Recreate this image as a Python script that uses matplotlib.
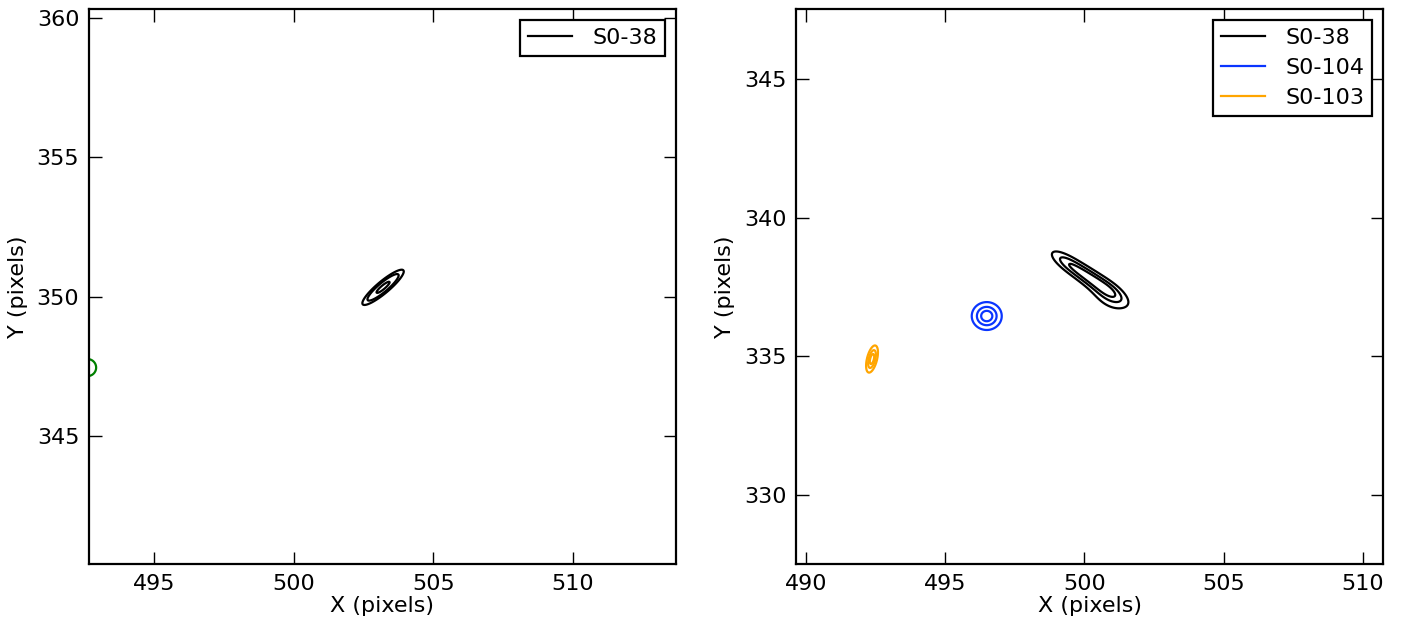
import numpy as np
import matplotlib
matplotlib.use("Agg")
import matplotlib.pyplot as plt
from matplotlib.lines import Line2D

# ---------------- data ----------------
# Each source: Gaussian components (x0, y0, amp, sigma_major, sigma_minor, angle_deg)
left_xlim = (492.67, 513.69)
left_ylim = (340.40, 360.32)
left_xticks = [495, 500, 505, 510]
left_yticks = [345, 350, 355, 360]

left_names = ["S0-38", None]
left_colors = ["black", "green"]
left_levels = [[0.2, 0.4, 0.85], [0.2]]
left_components = [
    [(503.2, 350.33, 1.0, 0.53, 0.12, 40.0)],
    [(492.62, 347.45, 1.0, 0.17, 0.17, 0.0)],
]

right_xlim = (489.64, 510.72)
right_ylim = (327.51, 347.52)
right_xticks = [490, 495, 500, 505, 510]
right_yticks = [330, 335, 340, 345]

right_names = ["S0-38", "S0-104", "S0-103"]
right_colors = ["black", "#0a35ff", "#ffa500"]
right_levels = [[0.2, 0.45, 0.72], [0.2, 0.5, 0.8], [0.2, 0.5, 0.8]]
right_components = [
    [(499.45, 338.32, 0.85, 0.50, 0.17, -34.0),
     (500.15, 337.85, 0.95, 0.50, 0.18, -34.0),
     (500.85, 337.38, 1.00, 0.50, 0.19, -34.0),
     (500.85, 337.05, 0.35, 0.50, 0.25, -34.0)],
    [(496.49, 336.45, 1.0, 0.30, 0.28, 0.0)],
    [(492.37, 334.90, 1.0, 0.28, 0.10, 76.0)],
]

# ---------------- style ----------------
plt.rcParams.update({
    "font.family": "DejaVu Sans",
    "font.size": 16,
    "xtick.direction": "in",
    "ytick.direction": "in",
    "xtick.top": True,
    "ytick.right": True,
    "xtick.major.size": 9,
    "ytick.major.size": 9,
    "xtick.major.width": 1.0,
    "ytick.major.width": 1.0,
    "xtick.major.pad": 7,
    "ytick.major.pad": 7,
    "axes.linewidth": 1.6,
})


def field(X, Y, comps):
    Z = np.zeros_like(X)
    for (x0, y0, amp, smaj, smin, ang) in comps:
        t = np.deg2rad(ang)
        dx, dy = X - x0, Y - y0
        u = dx * np.cos(t) + dy * np.sin(t)
        v = -dx * np.sin(t) + dy * np.cos(t)
        Z += amp * np.exp(-0.5 * ((u / smaj) ** 2 + (v / smin) ** 2))
    return Z / Z.max() if Z.max() > 0 else Z


def draw(ax, xlim, ylim, comps_list, colors, names, levs, xticks, yticks):
    xs = np.linspace(xlim[0] - 1.5, xlim[1] + 1.5, 900)
    ys = np.linspace(ylim[0] - 1.5, ylim[1] + 1.5, 900)
    X, Y = np.meshgrid(xs, ys)
    handles = []
    for comps, c, n, lv in zip(comps_list, colors, names, levs):
        Z = field(X, Y, comps)
        ax.contour(X, Y, Z, levels=lv, colors=c, linewidths=1.6)
        if n is not None:
            handles.append(Line2D([], [], color=c, lw=1.6, label=n))
    ax.set_xlim(*xlim)
    ax.set_ylim(*ylim)
    ax.set_xticks(xticks)
    ax.set_yticks(yticks)
    ax.set_xlabel("X (pixels)", labelpad=2)
    ax.set_ylabel("Y (pixels)", labelpad=6)
    leg = ax.legend(handles=handles, loc="upper right", fancybox=False,
                    framealpha=1, edgecolor="black", handlelength=2.0,
                    labelspacing=0.45, borderpad=0.35, handletextpad=0.9,
                    borderaxespad=0.5)
    leg.get_frame().set_linewidth(1.6)


fig = plt.figure(figsize=(14.01, 6.27), dpi=100)
ax1 = fig.add_axes([89 / 1401, 63 / 627, 587 / 1401, 555 / 627])
ax2 = fig.add_axes([796 / 1401, 63 / 627, 587 / 1401, 555 / 627])

draw(ax1, left_xlim, left_ylim, left_components, left_colors, left_names,
     left_levels, left_xticks, left_yticks)
draw(ax2, right_xlim, right_ylim, right_components, right_colors, right_names,
     right_levels, right_xticks, right_yticks)

fig.savefig("out.png", dpi=100)
